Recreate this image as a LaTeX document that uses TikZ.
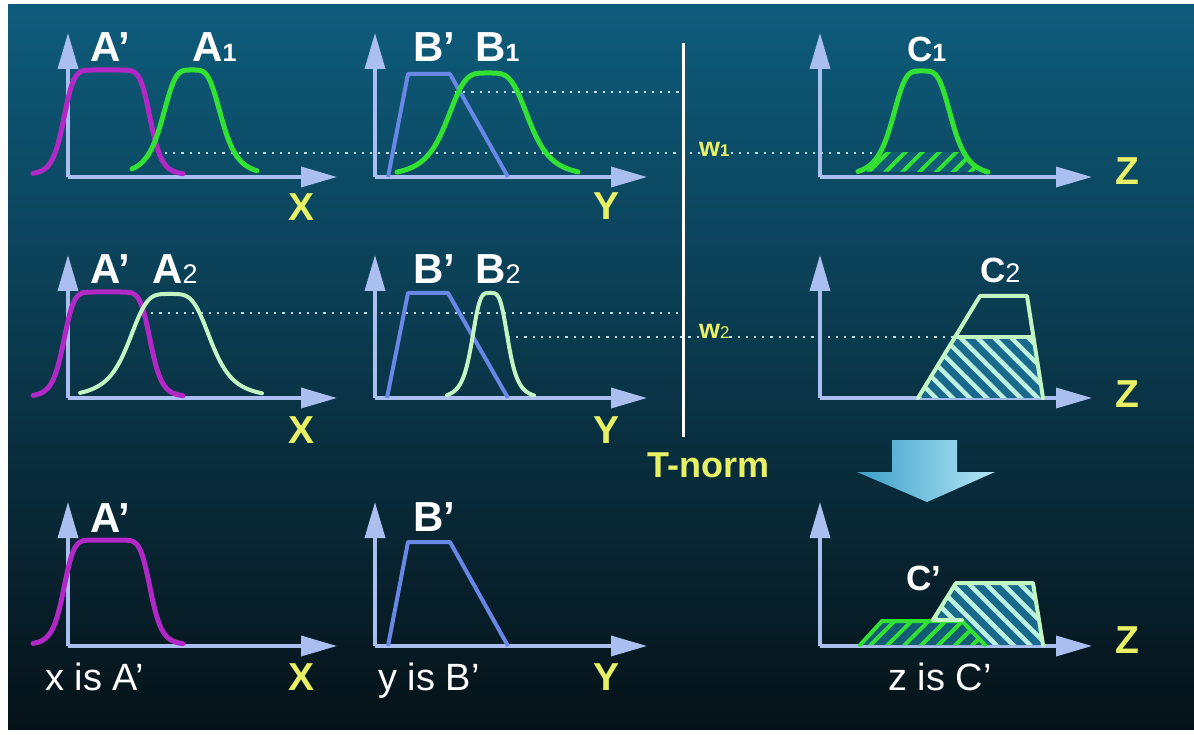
\documentclass[tikz,border=0pt]{standalone}
\usepackage{fontspec}
\setmainfont{Liberation Sans}
\usetikzlibrary{arrows.meta,patterns.meta}
\definecolor{bgtop}{RGB}{14,92,124}
\definecolor{bgmid}{RGB}{10,58,78}
\definecolor{bgbot}{RGB}{6,18,24}
\definecolor{magA}{RGB}{178,40,198}
\definecolor{greenA}{RGB}{50,225,50}
\definecolor{mintA}{RGB}{195,245,195}
\definecolor{trapblue}{RGB}{105,135,230}
\definecolor{axiscol}{RGB}{170,190,240}
\definecolor{yell}{RGB}{232,240,100}
\definecolor{dotcol}{RGB}{190,225,235}
\definecolor{hatchteal}{RGB}{25,105,140}
\definecolor{hatchgreenbg}{RGB}{18,92,118}
\definecolor{mintline}{RGB}{190,242,225}
\definecolor{arrL}{RGB}{60,160,200}
\definecolor{arrR}{RGB}{180,230,245}
\newcommand\subA[1]{{\fontsize{25}{25}\selectfont #1}}
\newcommand\subB[1]{{\mdseries\fontsize{27}{27}\selectfont #1}}
\begin{document}
\begin{tikzpicture}[x=1pt,y=-1pt,
  declare function={bellfour(\t)=1/(1+(\t)*(\t)*(\t)*(\t));
                    belleight(\t)=1/(1+(\t)*(\t)*(\t)*(\t)*(\t)*(\t)*(\t)*(\t));},
  axisline/.style={draw=axiscol, line width=3.5pt, -{Triangle[length=36pt,width=20pt]}},
  magcurve/.style={draw=magA, line width=5pt, line cap=round},
  grncurve/.style={draw=greenA, line width=5pt, line cap=round},
  mintcurve/.style={draw=mintA, line width=4pt, line cap=round},
  trapline/.style={draw=trapblue, line width=4pt, line join=round},
  dotline/.style={draw=dotcol, line width=2.2pt, dash pattern=on 2.2pt off 6pt},
  biglbl/.style={text=white, inner sep=0pt, anchor=base west, font=\bfseries\fontsize{42}{42}\selectfont},
  clbl/.style={text=white, inner sep=0pt, anchor=base west, font=\bfseries\fontsize{35}{35}\selectfont},
  axlbl/.style={text=yell, inner sep=0pt, anchor=base west, font=\bfseries\fontsize{39}{39}\selectfont},
  wlbl/.style={text=yell, inner sep=0pt, anchor=base west, font=\bfseries\fontsize{27}{27}\selectfont},
  islbl/.style={text=white, inner sep=0pt, anchor=base west, font=\fontsize{38}{38}\selectfont},
  greenhatch/.style={pattern={Lines[angle=45,distance=12pt,line width=4pt]}, pattern color=greenA},
  minthatch/.style={pattern={Lines[angle=-45,distance=12pt,line width=4.5pt]}, pattern color=mintline}
]
\useasboundingbox (0,0) rectangle (1194,735);
\fill[white] (0,0) rectangle (1194,735);
\shade[top color=bgtop, middle color=bgmid, bottom color=bgbot] (8,5) rectangle (1194,729);

% dotted guide lines
\coordinate (d1a) at (455,92);   \coordinate (d1b) at (683,92);
\coordinate (d2a) at (165,153);  \coordinate (d2b) at (960,153);
\coordinate (d3a) at (143,313);  \coordinate (d3b) at (683,313);
\coordinate (d4a) at (508,337);  \coordinate (d4b) at (955,337);
\draw[dotline] (d1a) -- (d1b);
\draw[dotline] (d2a) -- (d2b);
\draw[dotline] (d3a) -- (d3b);
\draw[dotline] (d4a) -- (d4b);

% axes
\foreach \r/\b/\t in {1/177/33, 2/398/255, 3/646/502}{
  \foreach \c/\ox/\xe in {A/68/337, B/375/647, C/820/1092}{
    \coordinate (o\c\r) at (\ox,\b);
    \coordinate (y\c\r) at (\ox,\t);
    \coordinate (x\c\r) at (\xe,\b);
    \draw[axisline] (o\c\r) -- (y\c\r);
    \draw[axisline] (o\c\r) -- (x\c\r);
  }
}

% row 1 curves
\draw[magcurve] plot[domain=33:183,samples=150] (\x,{175-105*belleight((\x-107)/44)});
\draw[grncurve] plot[domain=132:257,samples=150] (\x,{176-106*bellfour((\x-192)/31)});
\draw[trapline] (388,177) -- (408,74) -- (450,74) -- (508,177);
\draw[grncurve] plot[domain=397:578,samples=150] (\x,{177-104*bellfour((\x-488)/43)});
% C1 hatched
\begin{scope}
  \clip (840,153) rectangle (1010,177);
  \fill[hatchgreenbg] plot[domain=858:988,samples=150] (\x,{177-106*bellfour((\x-922)/31)}) -- cycle;
  \fill[greenhatch] plot[domain=858:988,samples=150] (\x,{177-106*bellfour((\x-922)/31)}) -- cycle;
\end{scope}
\draw[grncurve] plot[domain=858:988,samples=150] (\x,{177-106*bellfour((\x-922)/31)});

% row 2 curves
\draw[magcurve] plot[domain=33:183,samples=150] (\x,{397-105*belleight((\x-107)/44)});
\draw[mintcurve] plot[domain=80:262,samples=150] (\x,{398-104*bellfour((\x-170)/43)});
\draw[trapline] (387,398) -- (408,293) -- (448,293) -- (508,398);
\draw[mintcurve] plot[domain=447:534,samples=150] (\x,{399-106*bellfour((\x-490)/19)});
% C2
\fill[hatchteal] (918,398) -- (955,337) -- (1033,337) -- (1043,398) -- cycle;
\fill[minthatch] (918,398) -- (955,337) -- (1033,337) -- (1043,398) -- cycle;
\draw[mintcurve, line join=round] (918,398) -- (980,296) -- (1027,296) -- (1043,398);
\draw[mintcurve] (955,337) -- (1033,337);

% row 3 curves
\draw[magcurve] plot[domain=33:183,samples=150] (\x,{645-105*belleight((\x-107)/44)});
\draw[trapline] (388,646) -- (408,542) -- (450,542) -- (508,646);
% C'
\fill[hatchteal] (918,645) -- (956,583) -- (1033,583) -- (1043,645) -- cycle;
\fill[minthatch] (918,645) -- (956,583) -- (1033,583) -- (1043,645) -- cycle;
\draw[mintcurve, line join=round] (933,620) -- (956,583) -- (1033,583) -- (1043,645);
\fill[hatchgreenbg] (860,645) -- (882,621) -- (962,621) -- (985,645) -- cycle;
\fill[greenhatch] (860,645) -- (882,621) -- (962,621) -- (985,645) -- cycle;
\draw[grncurve, line width=4pt, line join=round] (860,645) -- (882,621) -- (962,621) -- (985,645);
\draw[mintcurve] (933,620) -- (962,620);

% vertical separator
\coordinate (vtop) at (683,43);
\coordinate (vbot) at (683,437);
\draw[white, line width=3pt] (vtop) -- (vbot);

% block arrow
\shade[left color=arrL, right color=arrR] (892,440) -- (957,440) -- (957,472) -- (995,472) -- (927,502) -- (857,472) -- (892,472) -- cycle;

% labels row 1
\node[biglbl] (lA1p) at (90,62) {A’};
\node[biglbl] (lA1) at (192,62) {A\subA{1}};
\node[biglbl] (lB1p) at (413,62) {B’};
\node[biglbl] (lB1) at (475,62) {B\subA{1}};
\node[clbl] (lC1) at (907,62) {C\subA{1}};
\node[axlbl] (lX1) at (288,221) {X};
\node[axlbl] (lY1) at (593,220) {Y};
\node[axlbl] (lZ1) at (1115,185) {Z};
\node[wlbl] (lw1) at (699,157) {w{\fontsize{17}{17}\selectfont 1}};

% labels row 2
\node[biglbl] (lA2p) at (90,284) {A’};
\node[biglbl] (lA2) at (152,284) {A\subB{2}};
\node[biglbl] (lB2p) at (413,284) {B’};
\node[biglbl] (lB2) at (475,284) {B\subB{2}};
\node[clbl] (lC2) at (980,283) {C\subB{2}};
\node[axlbl] (lX2) at (288,443) {X};
\node[axlbl] (lY2) at (593,443) {Y};
\node[axlbl] (lZ2) at (1115,407) {Z};
\node[wlbl] (lw2) at (699,338) {w{\mdseries\fontsize{17}{17}\selectfont 2}};
\node[axlbl, font=\bfseries\fontsize{36}{36}\selectfont] (ltnorm) at (647,477) {T-norm};

% labels row 3
\node[biglbl] (lA3p) at (90,532) {A’};
\node[biglbl] (lB3p) at (413,531) {B’};
\node[clbl] (lC3p) at (906,590) {C’};
\node[axlbl] (lX3) at (288,690) {X};
\node[axlbl] (lY3) at (593,690) {Y};
\node[axlbl] (lZ3) at (1115,653) {Z};
\node[islbl] (lxis) at (45,690) {x is A’};
\node[islbl] (lyis) at (378,690) {y is B’};
\node[islbl] (lzis) at (888,690) {z is C’};
\end{tikzpicture}
\end{document}
